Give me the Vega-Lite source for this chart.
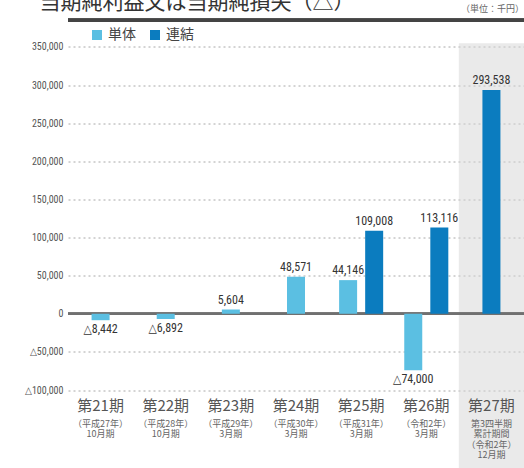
{
  "$schema": "https://vega.github.io/schema/vega-lite/v6.json",
  "width": 456,
  "height": 373.5,
  "autosize": {"type": "none"},
  "padding": {"left": 68, "top": 16.5, "right": 0, "bottom": 78},
  "background": "white",
  "datasets": {
    "main": [
      {"period": "第21期", "type": "単体", "slot": "c", "value": -8442, "label": "△8,442"},
      {"period": "第22期", "type": "単体", "slot": "c", "value": -6892, "label": "△6,892"},
      {"period": "第23期", "type": "単体", "slot": "c", "value": 5604, "label": "5,604"},
      {"period": "第24期", "type": "単体", "slot": "c", "value": 48571, "label": "48,571"},
      {"period": "第25期", "type": "単体", "slot": "a", "value": 44146, "label": "44,146"},
      {"period": "第25期", "type": "連結", "slot": "b", "value": 109008, "label": "109,008"},
      {"period": "第26期", "type": "単体", "slot": "a", "value": -74000, "label": "△74,000"},
      {"period": "第26期", "type": "連結", "slot": "b", "value": 113116, "label": "113,116"},
      {"period": "第27期", "type": "連結", "slot": "c", "value": 293538, "label": "293,538"}
    ]
  },
  "data": {"name": "main"},
  "resolve": {"axis": {"x": "independent"}},
  "layer": [
    {
      "data": {"values": [{"period": "第27期"}]},
      "mark": {"type": "rect", "color": "#d6d6d6", "opacity": 0.5, "clip": false},
      "encoding": {
        "x": {
          "field": "period", "type": "nominal",
          "scale": {"domain": ["第21期", "第22期", "第23期", "第24期", "第25期", "第26期", "第27期"], "paddingInner": 0, "paddingOuter": 0},
          "axis": {
            "orient": "bottom",
            "title": null, "domain": false, "ticks": false, "labelAngle": 0,
            "labelFontSize": 15, "labelColor": "#555555", "labelFont": "Noto Sans CJK JP",
            "labelPadding": 8, "labelBaseline": "top"
          }
        },
        "y": {
          "datum": 355000,
          "scale": {"domain": [-100000, 390000], "nice": false, "zero": false},
          "axis": {
            "title": null, "tickCount": 10,
            "values": [-100000, -50000, 0, 50000, 100000, 150000, 200000, 250000, 300000, 350000],
            "grid": true, "gridColor": "#a8a8a8", "gridDash": [2, 3], "gridWidth": 1,
            "labelExpr": "datum.value < 0 ? '△' + format(-datum.value, ',') : format(datum.value, ',')"
          }
        },
        "y2": {"datum": -210000}
      }
    },
    {
      "data": {"values": [{"period": "第27期"}]},
      "mark": {"type": "rect", "opacity": 0},
      "encoding": {
        "x": {
          "field": "period", "type": "nominal",
          "axis": {
            "orient": "bottom",
            "title": null, "domain": false, "ticks": false, "labelAngle": 0,
            "labelFontSize": 9, "labelColor": "#666666", "labelFont": "Noto Sans CJK JP",
            "labelLineHeight": 10.5, "labelPadding": 29, "labelBaseline": "top",
            "labelExpr": "{'第21期':['（平成27年）','10月期'],'第22期':['（平成28年）','10月期'],'第23期':['（平成29年）','3月期'],'第24期':['（平成30年）','3月期'],'第25期':['（平成31年）','3月期'],'第26期':['（令和2年）','3月期'],'第27期':['第3四半期','累計期間','（令和2年）','12月期']}[datum.value]"
          }
        },
        "y": {
          "datum": 0,
          "axis": {
            "title": null, "tickCount": 10,
            "values": [-100000, -50000, 0, 50000, 100000, 150000, 200000, 250000, 300000, 350000],
            "grid": true, "gridColor": "#a8a8a8", "gridDash": [2, 3], "gridWidth": 1,
            "labelExpr": "datum.value < 0 ? '△' + format(-datum.value, ',') : format(datum.value, ',')"
          }
        },
        "y2": {"datum": 0}
      }
    },
    {
      "mark": {"type": "rule", "color": "#707070", "strokeWidth": 2},
      "encoding": {
        "y": {
          "datum": 0,
          "axis": {
            "title": null, "tickCount": 10,
            "values": [-100000, -50000, 0, 50000, 100000, 150000, 200000, 250000, 300000, 350000],
            "grid": true, "gridColor": "#a8a8a8", "gridDash": [2, 3], "gridWidth": 1,
            "labelExpr": "datum.value < 0 ? '△' + format(-datum.value, ',') : format(datum.value, ',')"
          }
        }
      }
    },
    {
      "mark": {"type": "rule", "color": "#444444", "strokeWidth": 3},
      "encoding": {
        "y": {
          "datum": 385000,
          "axis": {
            "title": null, "tickCount": 10,
            "values": [-100000, -50000, 0, 50000, 100000, 150000, 200000, 250000, 300000, 350000],
            "grid": true, "gridColor": "#a8a8a8", "gridDash": [2, 3], "gridWidth": 1,
            "labelExpr": "datum.value < 0 ? '△' + format(-datum.value, ',') : format(datum.value, ',')"
          }
        }
      }
    },
    {
      "mark": {"type": "bar", "width": 18},
      "encoding": {
        "x": {"field": "period", "type": "nominal", "axis": null},
        "xOffset": {"field": "slot", "type": "nominal", "scale": {"domain": ["a", "c", "b"], "paddingInner": 0, "paddingOuter": 1.48}},
        "y": {
          "field": "value", "type": "quantitative",
          "axis": {
            "title": null, "tickCount": 10,
            "values": [-100000, -50000, 0, 50000, 100000, 150000, 200000, 250000, 300000, 350000],
            "grid": true, "gridColor": "#a8a8a8", "gridDash": [2, 3], "gridWidth": 1,
            "labelExpr": "datum.value < 0 ? '△' + format(-datum.value, ',') : format(datum.value, ',')"
          }
        },
        "color": {
          "field": "type", "type": "nominal",
          "scale": {"domain": ["単体", "連結"], "range": ["#5bbfe2", "#0b7cbf"]},
          "legend": {
            "title": null, "orient": "none", "legendX": 22, "legendY": 11.5, "direction": "horizontal",
            "symbolType": "square", "symbolSize": 100, "symbolStrokeWidth": 0,
            "labelFontSize": 14, "labelColor": "#444444", "labelFont": "Noto Sans CJK JP", "columnPadding": 12
          }
        }
      }
    },
    {
      "transform": [{"filter": "datum.value >= 0"}],
      "mark": {"type": "text", "baseline": "bottom", "dy": -3, "fontSize": 12, "font": "Roboto Condensed, DejaVu Sans Condensed, Liberation Sans Narrow, Roboto, sans-serif", "color": "#333333"},
      "encoding": {
        "x": {"field": "period", "type": "nominal", "axis": null},
        "xOffset": {"field": "slot", "type": "nominal"},
        "y": {"field": "value", "type": "quantitative"},
        "text": {"field": "label"}
      }
    },
    {
      "transform": [{"filter": "datum.value < 0"}],
      "mark": {"type": "text", "baseline": "top", "dy": 4, "fontSize": 12, "font": "Roboto Condensed, DejaVu Sans Condensed, Liberation Sans Narrow, Roboto, sans-serif", "color": "#333333"},
      "encoding": {
        "x": {"field": "period", "type": "nominal", "axis": null},
        "xOffset": {"field": "slot", "type": "nominal"},
        "y": {"field": "value", "type": "quantitative"},
        "text": {"field": "label"}
      }
    },
    {
      "data": {"values": [{"unit": "（単位：千円）"}]},
      "mark": {"type": "text", "align": "right", "baseline": "middle", "fontSize": 9, "font": "Noto Sans CJK JP", "color": "#666666", "clip": false},
      "encoding": {
        "x": {"value": "width"},
        "y": {"datum": 400000},
        "text": {"field": "unit"}
      }
    },
    {
      "data": {"values": [{"heading": "当期純利益又は当期純損失（△）"}]},
      "mark": {"type": "text", "align": "left", "baseline": "bottom", "dx": -61, "fontSize": 21, "font": "Noto Sans CJK JP", "color": "#333333", "clip": false},
      "encoding": {
        "x": {"datum": "第21期", "axis": null},
        "y": {"datum": 395000},
        "text": {"field": "heading"}
      }
    }
  ],
  "config": {
    "view": {"stroke": null},
    "axisY": {
      "domain": false, "ticks": false, "labelFontSize": 10, "labelColor": "#555555",
      "labelFont": "Roboto Condensed, DejaVu Sans Condensed, Roboto, sans-serif", "labelPadding": 5, "title": null
    },
    "axisX": {"grid": false}
  }
}
